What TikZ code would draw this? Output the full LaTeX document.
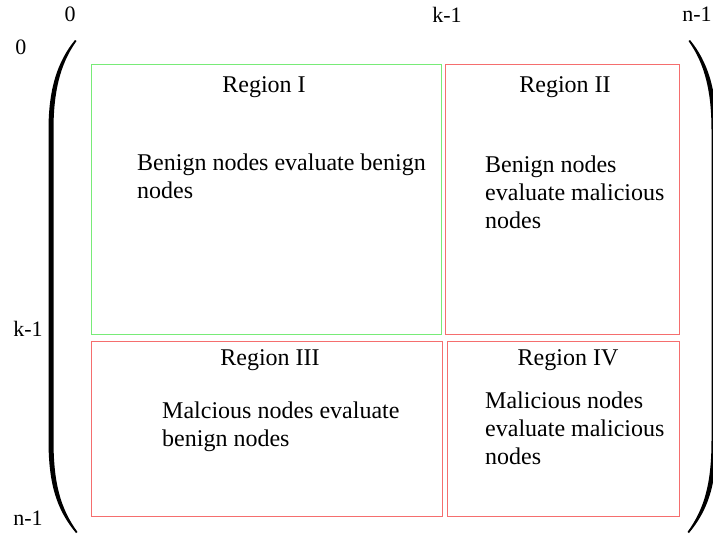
\documentclass[tikz,border=0pt]{standalone}
\usepackage{fontspec}
\setmainfont{Liberation Serif}
\definecolor{lightgreen}{RGB}{120,235,120}
\definecolor{lightred}{RGB}{245,110,110}

\begin{document}
\begin{tikzpicture}[x=1pt,y=-1pt,
  region/.style={line width=1pt},
  title/.style={font=\fontsize{24}{28}\selectfont,anchor=base,inner sep=0pt},
  body/.style={font=\fontsize{24}{28}\selectfont,anchor=base west,align=left,inner sep=0pt},
  idx/.style={font=\fontsize{22}{26}\selectfont,inner sep=0pt}]
  \useasboundingbox (0,0) rectangle (713,538);
  % the four regions
  \draw[region,lightgreen] (91,64) rectangle (441,334);
  \draw[region,lightred] (445,64) rectangle (679,334);
  \draw[region,lightred] (91,341) rectangle (442,516);
  \draw[region,lightred] (447,341) rectangle (679,516);
  % brackets
  \foreach \s/\c in {1/51,-1/714} {
    \fill ({\c+\s*24},40) .. controls ({\c+\s*6},62) and ({\c-\s*2.5},90) .. ({\c-\s*2.5},130)
      -- ({\c-\s*2.5},440) .. controls ({\c-\s*2.5},485) and ({\c+\s*6},510) .. ({\c+\s*25},533)
      -- ({\c+\s*26.5},532) .. controls ({\c+\s*9},508) and ({\c+\s*2.5},482) .. ({\c+\s*2.5},440)
      -- ({\c+\s*2.5},130) .. controls ({\c+\s*2.5},92) and ({\c+\s*9},64) .. ({\c+\s*25.5},41) -- cycle;
  }
  % indices
  \node[idx] (c0) at (70,14) {0};
  \node[idx] (ck) at (447,15) {k-1};
  \node[idx] (cn) at (697,14) {n-1};
  \node[idx] (r0) at (21,47) {0};
  \node[idx] (rk) at (28,329) {k-1};
  \node[idx] (rn) at (28,518) {n-1};
  % texts
  \node[title] (t1) at (264,92) {Region I};
  \node[title] (t2) at (565,92) {Region II};
  \node[title] (t3) at (270,365) {Region III};
  \node[title] (t4) at (568,365) {Region IV};
  \node[body] (b1) at (137,198) {Benign nodes evaluate benign\\nodes};
  \node[body] (b2) at (485,228) {Benign nodes\\evaluate malicious\\nodes};
  \node[body] (b3) at (162,446) {Malcious nodes evaluate\\benign nodes};
  \node[body] (b4) at (485,464) {Malicious nodes\\evaluate malicious\\nodes};
\end{tikzpicture}
\end{document}
